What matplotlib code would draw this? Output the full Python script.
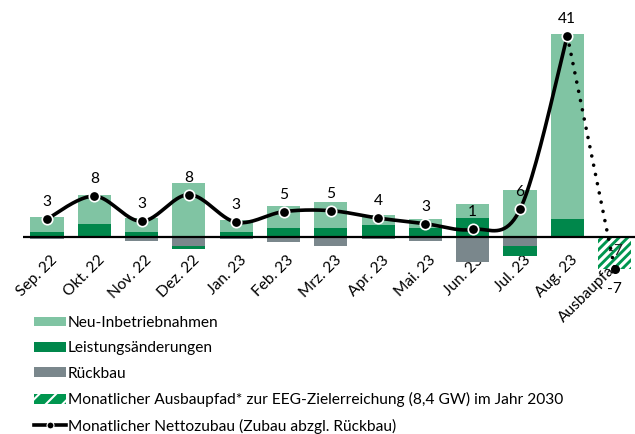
import numpy as np
import matplotlib
matplotlib.use("Agg")
import matplotlib.pyplot as plt
from matplotlib.patches import Patch
from matplotlib.lines import Line2D
from matplotlib.transforms import IdentityTransform

plt.rcParams['font.family'] = ['Lato', 'DejaVu Sans']
plt.rcParams['hatch.linewidth'] = 1.5

# ---- data ----
categories = ["Sep. 22", "Okt. 22", "Nov. 22", "Dez. 22", "Jan. 23", "Feb. 23",
              "Mrz. 23", "Apr. 23", "Mai. 23", "Jun. 23", "Jul. 23", "Aug. 23"]
target_label = "Ausbaupfad*"
neu = [3.1, 5.9, 2.8, 11.0, 2.6, 4.5, 5.3, 2.0, 1.7, 2.9, 9.5, 37.5]
leistung = [0.95, 2.6, 1.1, -0.6, 0.95, 1.76, 1.76, 2.4, 1.9, 3.8, -1.9, 3.7]
rueckbau = [-0.4, -0.2, -0.7, -1.9, -0.4, -1.07, -1.75, -0.4, -0.8, -5.1, -1.9, -0.1]
netto = [3.65, 8.3, 3.2, 8.6, 3.0, 5.15, 5.35, 3.85, 2.7, 1.55, 5.6, 40.8]
netto_labels = ["3", "8", "3", "8", "3", "5", "5", "4", "3", "1", "6", "41"]
ausbaupfad = -6.4
ausbaupfad_label = "-7"

C_NEU = "#80C4A3"
C_LEI = "#00874B"
C_RUE = "#7A878C"
C_HATCH = "#00964F"
FS = 11.2

fig = plt.figure(figsize=(6.35, 4.34), dpi=100)
ax = fig.add_axes([23 / 635, 157.5 / 434, 612 / 635, 256.4 / 434])
ax.set_xlim(-0.507, 12.43)
ax.set_ylim(-8, 44)
ax.axis('off')

n = len(categories)
x = np.arange(n)
neu_a = np.array(neu)
lei_a = np.array(leistung)
rue_a = np.array(rueckbau)
w = 0.7

lei_bottom = np.where(lei_a >= 0, 0, rue_a)
neu_bottom = np.where(lei_a >= 0, lei_a, 0)
ax.bar(x, rue_a, w, color=C_RUE, zorder=2, clip_on=False)
ax.bar(x, lei_a, w, bottom=lei_bottom, color=C_LEI, zorder=2, clip_on=False)
ax.bar(x, neu_a, w, bottom=neu_bottom, color=C_NEU, zorder=2, clip_on=False)
tbar = ax.bar([n], [ausbaupfad], w, color=C_HATCH, linewidth=0, zorder=2, clip_on=False)
patch = tbar.patches[0]

# white diagonal stripes clipped to the target bar (pixel-based 45 degree stripes)
fig.canvas.draw()
bb = patch.get_window_extent()
period = 8.6
k0 = bb.x0 - bb.height - period
while k0 < bb.x1 + period:
    ln = Line2D([k0, k0 + bb.height + 2], [bb.y0, bb.y1 + 2], color='white', lw=2.3,
                zorder=2.1)
    ln.set_transform(IdentityTransform())
    ax.add_artist(ln)
    ln.set_clip_path(patch)
    ln.set_clip_on(True)
    k0 += period

ax.axhline(0, color='black', lw=1.6, zorder=3)

# smooth line (Catmull-Rom rendering, like Excel smoothing)
def smooth(xs, ys, steps=40):
    P = np.column_stack([xs, ys]).astype(float)
    P = np.vstack([P[0], P, P[-1]])
    out = []
    for i in range(1, len(P) - 2):
        p0, p1, p2, p3 = P[i - 1], P[i], P[i + 1], P[i + 2]
        c1 = p1 + (p2 - p0) / 6
        c2 = p2 - (p3 - p1) / 6
        t = np.linspace(0, 1, steps)[:, None]
        seg = ((1 - t) ** 3) * p1 + 3 * ((1 - t) ** 2) * t * c1 + 3 * (1 - t) * t ** 2 * c2 + t ** 3 * p2
        out.append(seg if i == 1 else seg[1:])
    return np.vstack(out)

curve = smooth(x, netto)
ax.plot(curve[:, 0], curve[:, 1], color='black', lw=2.6, zorder=4, solid_capstyle='round')
ax.plot(x, netto, 'o', color='black', ms=7.5, mec='white', mew=1.2, zorder=5)

# dotted path to target
ax.plot([x[-1], n], [netto[-1], ausbaupfad], color='black', lw=2.6,
        linestyle=(0, (0.01, 2.6)), dash_capstyle='round', zorder=4, clip_on=False)
ax.plot([n], [ausbaupfad], 'o', color='black', ms=5.5, zorder=5, clip_on=False)

for xi, yi, lab in zip(x, netto, netto_labels):
    ax.annotate(lab, (xi, yi), xytext=(0, 17), textcoords='offset pixels',
                ha='center', va='center', fontsize=FS, zorder=6)
ax.text(n + 0.02, -2.8, ausbaupfad_label, ha='center', va='center', fontsize=FS,
        color='#222222', zorder=6)
ax.text(n, -10.6, ausbaupfad_label, ha='center', va='center', fontsize=FS, zorder=6,
        clip_on=False)

for xi, lab in zip(list(x) + [n], categories + [target_label]):
    ax.text(xi + 0.07, -3.2, lab, rotation=45, ha='right', va='top',
            rotation_mode='anchor', fontsize=FS, zorder=1.5, clip_on=False)

handles = [
    Patch(facecolor=C_NEU, label="Neu-Inbetriebnahmen"),
    Patch(facecolor=C_LEI, label="Leistungsänderungen"),
    Patch(facecolor=C_RUE, label="Rückbau"),
    Patch(facecolor=C_HATCH, edgecolor='white', hatch='//', linewidth=0,
          label="Monatlicher Ausbaupfad* zur EEG-Zielerreichung (8,4 GW) im Jahr 2030"),
    Line2D([0], [0], color='black', lw=2.6, marker='o', ms=5, mec='white', mew=0.8,
           label="Monatlicher Nettozubau (Zubau abzgl. Rückbau)"),
]
fig.legend(handles=handles, loc='upper left', bbox_to_anchor=(34 / 635, 1 - 316 / 434),
           frameon=False, fontsize=FS, handlelength=2.06, handleheight=0.6,
           handletextpad=0.13, labelspacing=0.73, borderaxespad=0, borderpad=0)

fig.savefig("out.png", dpi=100)
